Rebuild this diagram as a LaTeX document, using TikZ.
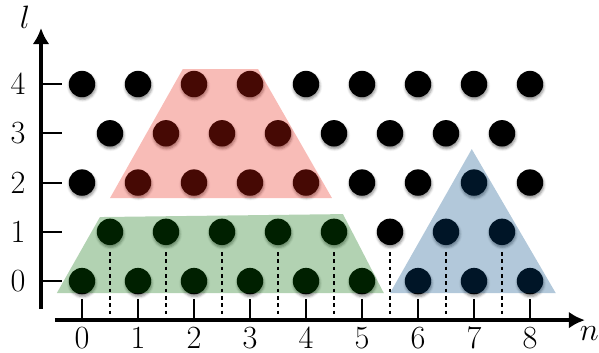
\RequirePackage{fix-cm}
\documentclass[tikz,border=0pt]{standalone}
\usepackage{fontspec}
\usepackage{amsmath}
\usetikzlibrary{arrows.meta,shadows.blur}

\definecolor{redzone}{RGB}{232,32,16}
\definecolor{greenzone}{RGB}{0,107,0}
\definecolor{bluezone}{RGB}{0,72,131}

\tikzset{
  dot/.style={circle, fill=black, minimum size=0.66cm, inner sep=0pt,
    blur shadow={shadow xshift=0.4pt, shadow yshift=-1.6pt,
      shadow blur radius=1.8pt, shadow opacity=45}},
  zone/.style={fill opacity=0.3},
  axis/.style={line width=2.4pt, -{Latex[length=0.4cm,width=0.42cm]}},
  tick/.style={line width=1.4pt},
  cut/.style={line width=1.3pt, dash pattern=on 2.6pt off 2.6pt},
  lbl/.style={font=\fontsize{23}{26}\selectfont, inner sep=0pt}
}

\begin{document}
\begin{tikzpicture}[x=1.4cm,y=1.2315cm]
        \useasboundingbox (-1.464,-1.442) rectangle (9.232,5.706);
        % lattice points
        \foreach \l in {0,2,4}
          \foreach \k in {0,...,8}
            \node[dot] (d\k-\l) at (\k,\l) {};
        \foreach \l in {1,3}
          \foreach \k in {0,...,7}
            \node[dot] (d\k-\l) at (\k+0.5,\l) {};
        % shaded zones
        \fill[redzone, zone] (1.80,4.305) -- (3.143,4.305) -- (4.464,1.685) -- (0.5,1.685) -- cycle;
        \fill[greenzone, zone] (0.32,1.30) -- (4.66,1.36) -- (5.39,-0.244) -- (-0.45,-0.244) -- cycle;
        \fill[bluezone, zone] (6.96,2.68) -- (8.46,-0.244) -- (5.5,-0.244) -- cycle;
        % axes
        \coordinate (yb) at (-0.732,-0.569);
        \coordinate (yt) at (-0.732,5.137);
        \coordinate (xb) at (-0.482,-0.792);
        \coordinate (xt) at (8.98,-0.792);
        \draw[axis] (yb) -- (yt);
        \draw[axis] (xb) -- (xt);
        \node[lbl] (lname) at (-1.02,5.36) {$l$};
        \node[lbl] (nname) at (9.06,-1.06) {$n$};
        \foreach \l in {0,...,4} {
          \draw[tick] (-0.732,\l) -- (-0.357,\l);
          \node[lbl] (yl\l) at (-1.14,\l) {\l};
        }
        \foreach \n in {0,...,8} {
          \draw[tick] (\n,-0.792) -- (\n,-0.365);
          \node[lbl] (xl\n) at (\n,-1.15) {\n};
        }
        % cuts
        \foreach \k in {0,...,7}
          \draw[cut] (\k+0.5,0.589) -- (\k+0.5,-0.792);
      \end{tikzpicture}
\end{document}
